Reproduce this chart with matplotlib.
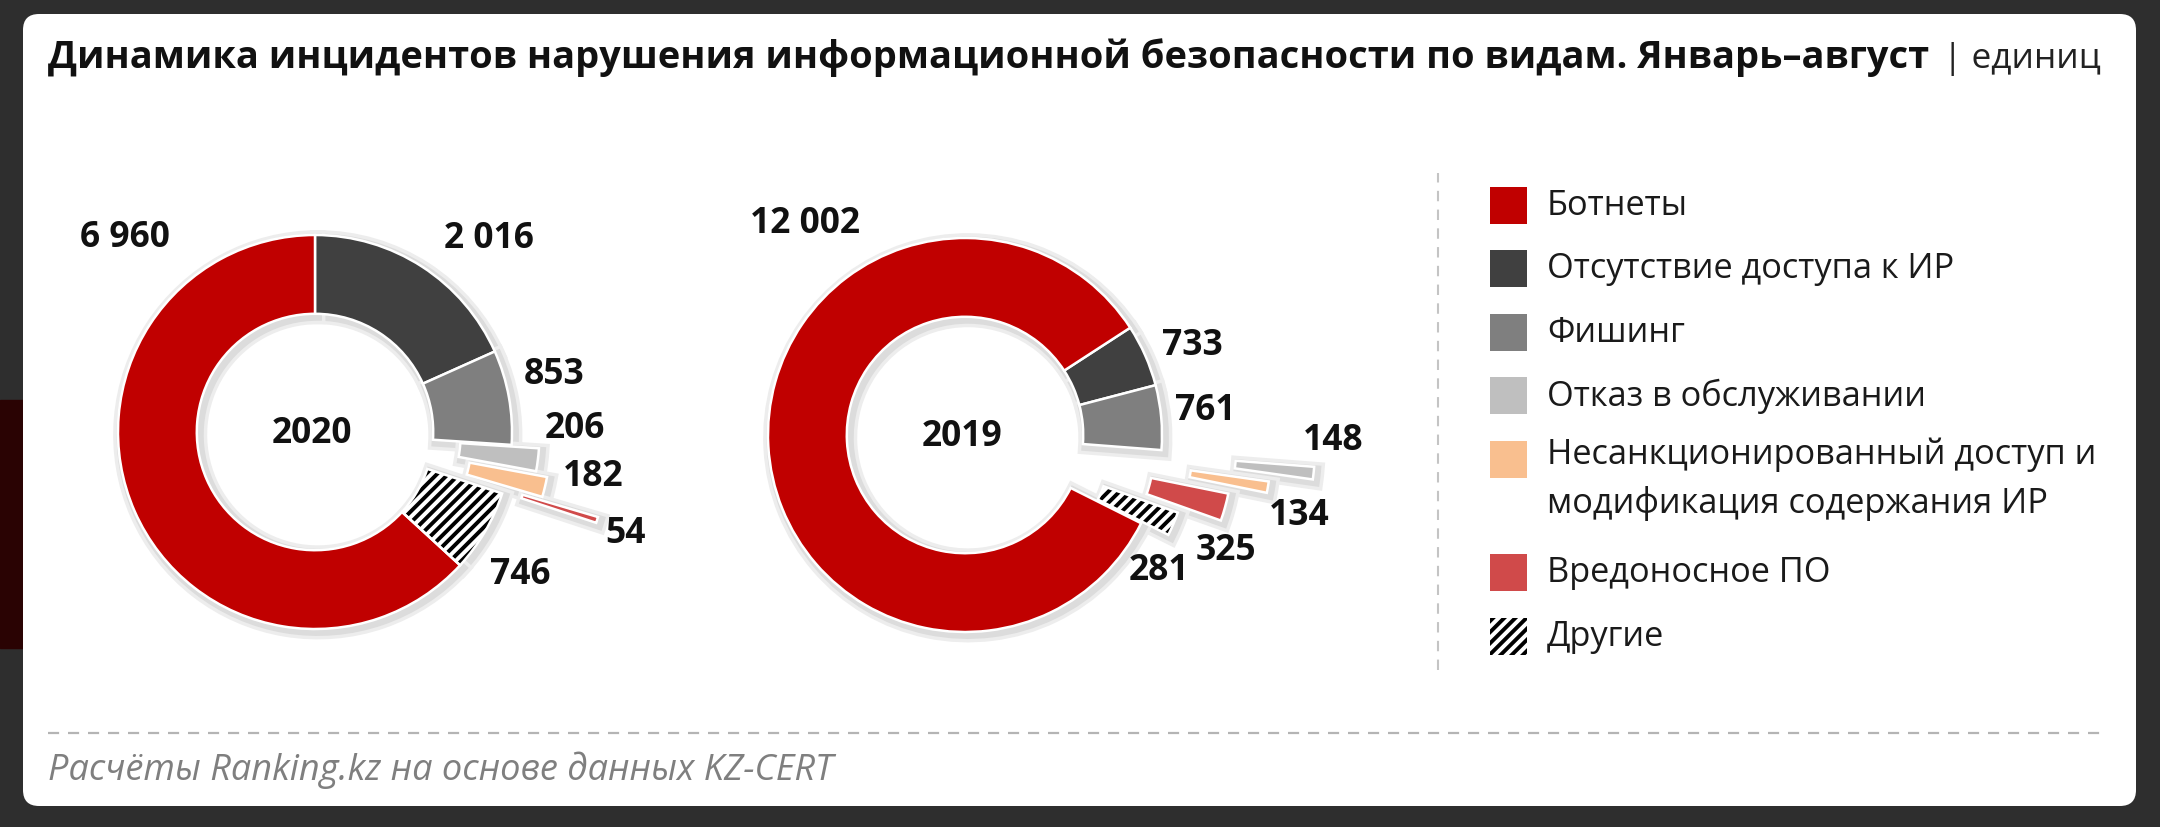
import matplotlib
matplotlib.use('Agg')
import matplotlib.pyplot as plt
import matplotlib.patches as mpatches
import matplotlib.patheffects as pe
import numpy as np

plt.rcParams['font.family'] = ['Open Sans', 'DejaVu Sans']
plt.rcParams['hatch.linewidth'] = 2.8

# data (legend order)
categories = ['Ботнеты', 'Отсутствие доступа к ИР', 'Фишинг', 'Отказ в обслуживании',
              'Несанкционированный доступ и\nмодификация содержания ИР',
              'Вредоносное ПО', 'Другие']
values_2020 = [6960, 2016, 853, 206, 182, 54, 746]
values_2019 = [12002, 733, 761, 148, 134, 325, 281]
years = ['2020', '2019']
title = 'Динамика инцидентов нарушения информационной безопасности по видам. Январь–август'
unit = '| единиц'
source = 'Расчёты Ranking.kz на основе данных KZ-CERT'

# style
colors = ['#c00000', '#404040', '#7f7f7f', '#bfbfbf', '#f9bf8f', '#d04a4a', 'white']
hatches = [None, None, None, None, None, None, '///']
pie_order = [1, 2, 3, 4, 5, 6, 0]
W, H = 2160, 827
R = 197
donuts = [
    dict(vals=values_2020, center=(315, 395), start=90,
         explode=[0, 0, 0, 0.14, 0.2, 0.5, 0],
         lab=[(1.38, 134.4), (1.32, 47.9), (1.25, 13.4), (1.32, 0.7),
              (1.43, -9.2), (1.66, -18.2), (1.27, -34.8)]),
    dict(vals=values_2019, center=(965, 392), start=33,
         explode=[0, 0, 0, 0.78, 0.56, 0.37, 0.15],
         lab=[(1.344, 127.2), (1.238, 21.4), (1.224, 5.7), (1.868, -0.9),
              (1.745, -13.6), (1.45, -24.0), (1.203, -35.0)]),
]

fig = plt.figure(figsize=(W / 100, H / 100), dpi=100)
fig.patch.set_facecolor('#2e2e2e')
ax = fig.add_axes([0, 0, 1, 1])

# background card + bit of neighbouring slide
ax.add_patch(mpatches.Rectangle((0, 179), 23, 248, color='#2a0303', zorder=0))
ax.add_patch(mpatches.FancyBboxPatch((23, 21), 2113, 792,
                                     boxstyle='round,pad=0,rounding_size=16',
                                     facecolor='white', edgecolor='none', zorder=0))

renderer = fig.canvas.get_renderer()


def fit(t, target):
    w = t.get_window_extent(renderer).width
    t.set_fontsize(t.get_fontsize() * target / w)
    return t


label_texts = []
for d, yr in zip(donuts, years):
    vals = [d['vals'][i] for i in pie_order]
    cols = [colors[i] for i in pie_order]
    expl = [d['explode'][i] * R for i in pie_order]
    cx, cy = d['center']
    # soft shadow
    sh, _ = ax.pie(vals, radius=R, center=(cx, cy), startangle=d['start'],
                   counterclock=False, explode=expl,
                   wedgeprops=dict(width=0.4 * R, facecolor='white',
                                   edgecolor='none', zorder=1))
    for w in sh:
        w.set_path_effects([pe.Stroke(linewidth=11, foreground='#ededed', offset=(2, -2)),
                            pe.Stroke(linewidth=6, foreground='#dcdcdc', offset=(2, -2))])
    wedges, _ = ax.pie(vals, radius=R, center=(cx, cy), startangle=d['start'],
                       counterclock=False, explode=expl, colors=cols,
                       wedgeprops=dict(width=0.4 * R, edgecolor='white',
                                       linewidth=1.8, zorder=2))
    for w, i in zip(wedges, pie_order):
        if hatches[i]:
            w.set_hatch(hatches[i])
            w.set_edgecolor('black')
            w.set_linewidth(0)
            ax.add_patch(mpatches.Wedge(w.center, w.r, w.theta1, w.theta2,
                                        width=w.width, facecolor='none',
                                        edgecolor='white', linewidth=1.8, zorder=3))
    for v, (rr, a) in zip(d['vals'], d['lab']):
        t = ax.text(cx + rr * R * np.cos(np.radians(a)), cy + rr * R * np.sin(np.radians(a)),
                    f'{v:,}'.replace(',', ' '), ha='center', va='center',
                    fontweight='bold', color='#111111', fontsize=22)
        label_texts.append(t)
    t = ax.text(cx - 3, cy - 2, yr, ha='center', va='center', fontweight='bold',
                color='#111111', fontsize=22)
    label_texts.append(t)

fit(label_texts[0], 90)
for t in label_texts[1:]:
    t.set_fontsize(label_texts[0].get_fontsize())

# title
tt = ax.text(48, 759, title, ha='left', va='baseline', fontweight='bold',
             color='#111111', fontsize=28)
fit(tt, 1874)
tu = ax.text(1943, 759, unit, ha='left', va='baseline', color='#222222', fontsize=24)
fit(tu, 158)

# legend
ax.plot([1438, 1438], [157, 654], color='#c4c4c4', lw=1.5, ls=(0, (5, 4)))
ycs = []
y = 205
for c in categories:
    ycs.append(y)
    y += 63.5 + 50 * c.count('\n')
leg_texts = []
for c, col, h, yc in zip(categories, colors, hatches, ycs):
    if h:
        ax.add_patch(mpatches.Rectangle((1490, H - yc - 18.5), 37, 37, facecolor='white',
                                        edgecolor='black', linewidth=0, hatch=h, zorder=2))
    else:
        ax.add_patch(mpatches.Rectangle((1490, H - yc - 18.5), 37, 37, facecolor=col,
                                        edgecolor='none', zorder=2))
    t = ax.text(1547, H - yc - 10, c, ha='left', va='baseline', color='#1a1a1a',
                fontsize=22, linespacing=1.5)
    leg_texts.append(t)
probe = ax.text(0, 0, categories[4].split('\n')[0], fontsize=22)
fit(probe, 551)
for t in leg_texts:
    t.set_fontsize(probe.get_fontsize())
    if '\n' in t.get_text():
        t.set_va('top')
        t.set_y(H - ycs[categories.index(t.get_text())] + 21)
probe.remove()

# footer
ax.plot([48, 2108], [94, 94], color='#b4b4b4', lw=1.6, ls=(0, (5, 4)))
tf = ax.text(48, 47, source, ha='left', va='baseline', style='italic',
             color='#7f7f7f', fontsize=20)
fit(tf, 786)

ax.set_xlim(0, W)
ax.set_ylim(0, H)
ax.set_aspect('equal')
ax.axis('off')
fig.savefig('out.png', dpi=100, facecolor=fig.get_facecolor())
